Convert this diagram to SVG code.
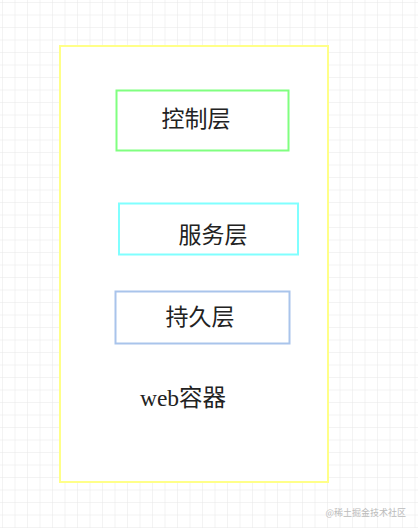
<svg xmlns="http://www.w3.org/2000/svg" width="418" height="528" viewBox="0 0 418 528">
<defs>
<pattern id="grid" width="12.5" height="12.5" patternUnits="userSpaceOnUse" x="3" y="3">
<path d="M12.5 0V12.5H0" fill="none" stroke="#e8e8e8" stroke-width="1"/>
</pattern>
</defs>
<style>
.box{fill:#ffffff;stroke-width:2}
.lbl{font-family:"Noto Sans CJK SC","Noto Sans",sans-serif;font-size:23px;fill:#222;text-anchor:middle}
</style>
<rect width="418" height="528" fill="#ffffff"/>
<rect width="418" height="528" fill="url(#grid)"/>
<g id="web-container">
<rect class="box" x="60" y="46" width="268" height="436" stroke="#ffff88" stroke-width="2.5"/>
<text x="183" y="406" style="font-family:'Liberation Serif','Noto Sans CJK SC',serif;font-size:23.5px;fill:#222;text-anchor:middle">web容器</text>
</g>
<g id="control-layer">
<rect class="box" x="116.5" y="90.5" width="172" height="60" stroke="#80ff80"/>
<text class="lbl" x="196" y="127">控制层</text>
</g>
<g id="service-layer">
<rect class="box" x="119" y="203.5" width="179" height="51" stroke="#80ffff"/>
<text class="lbl" x="213" y="243">服务层</text>
</g>
<g id="persistence-layer">
<rect class="box" x="115.5" y="291.5" width="174" height="52" stroke="#a9c4eb"/>
<text class="lbl" x="200" y="325">持久层</text>
</g>
<g id="connectors"></g>
<text x="406" y="516" style="font-family:'Noto Sans CJK SC',sans-serif;font-size:9px;fill:#bbbbbb;text-anchor:end">@稀土掘金技术社区</text>
</svg>
